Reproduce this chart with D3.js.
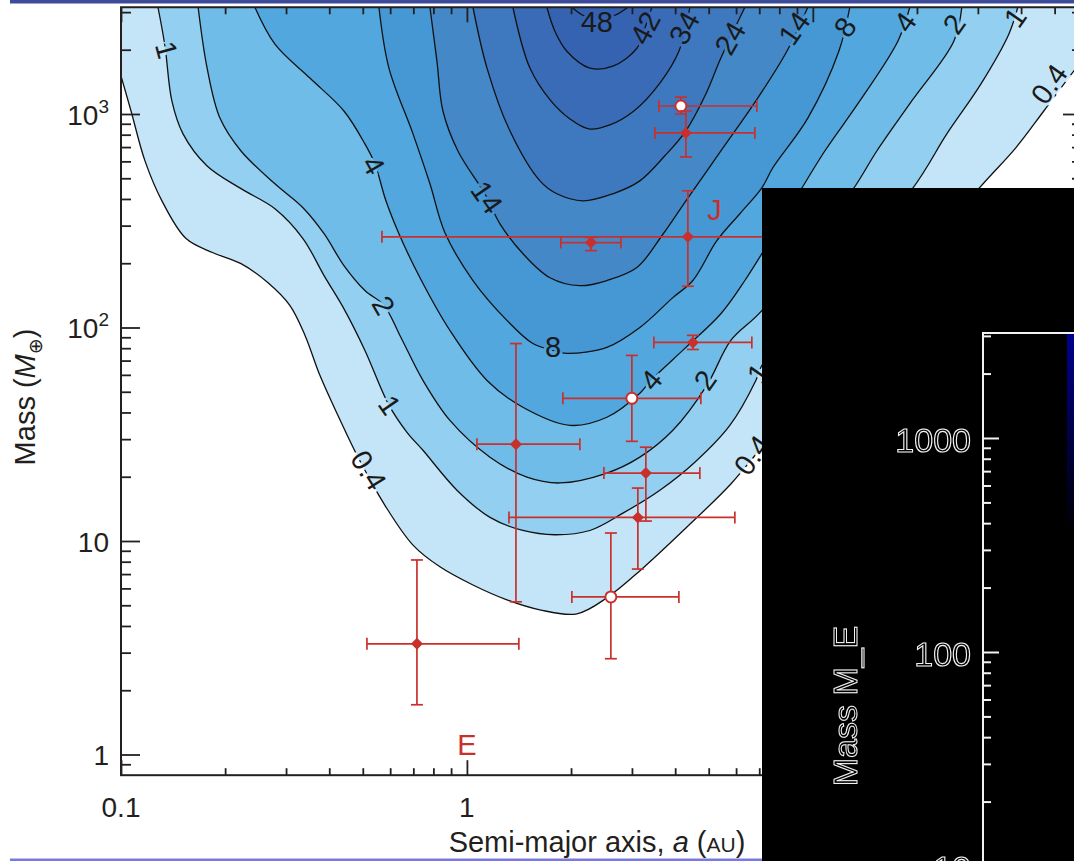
<!DOCTYPE html>
<html>
<head>
<meta charset="utf-8">
<script src="https://cdn.jsdelivr.net/npm/d3@7"></script>
<style>
  html, body { margin: 0; padding: 0; background: #ffffff; }
  svg { display: block; }
  text { font-family: "Liberation Sans", Arial, Helvetica, sans-serif; }
</style>
</head>
<body>
<svg id="chart" width="1074" height="861"></svg>
<script>
// ---------------- Detection-efficiency contours (semi-major axis in AU, mass in Earth masses)
const levels = [0.4, 1, 2, 4, 8, 14, 24, 34, 42, 48];
const bandColors = ["#c4e5f7", "#93cff0", "#6fbce8", "#52a7de", "#4598d4",
                    "#4588c8", "#3e78bf", "#396bb7", "#3563b2", "#3360b0"];

const contour04 = [[0.1,1507],[0.1069,1033],[0.1173,603],[0.1313,392],[0.1542,261],[0.1845,224],
  [0.2223,199],[0.2661,162],[0.3076,127],[0.3404,91.8],[0.3758,59.7],[0.4236,38.8],[0.4842,24.7],
  [0.5794,14.7],[0.6984,9.57],[0.8356,7.57],[1.041,6.22],[1.305,5.30],[1.626,4.76],[2.079,4.56],
  [2.539,5.42],[3.183,7.32],[4.296,11.5],[5.794,18.5],[7.121,27.5],[14.61,108],[29.99,442],
  [38.61,694],[46.53,1033],[56.79,1589],[63.17,1968]];
const contour1 = [[0.1279,3162],[0.1340,2080],[0.1403,1151],[0.1511,807],[0.1774,571],[0.2223,447],
  [0.2786,360],[0.3357,261],[0.3864,175],[0.4440,120],[0.5072,78.1],[0.5951,43.3],[0.6710,32.3],
  [0.7463,26.6],[0.9357,17.3],[1.166,12.9],[1.451,11.2],[1.796,10.7],[2.267,11.2],[2.824,13.5],
  [3.613,17.3],[4.560,23.4],[5.755,34.8],[6.843,56.5],[7.121,66.4],[19.32,442],[24.40,807],
  [30.59,1380],[36.86,2366],[39.13,3162]];
const contour2 = [[0.1671,3162],[0.1774,1641],[0.1932,957],[0.2223,671],[0.2786,471],[0.3357,364],
  [0.3864,275],[0.4410,195],[0.5072,149],[0.5756,127],[0.6402,91.8],[0.7463,56.5],[0.8931,36.7],
  [1.166,24.7],[1.491,19.9],[1.857,18.7],[2.539,20.8],[3.162,24.7],[3.939,33.0],[4.939,53.6],
  [5.794,87.0],[7.121,120],[13.05,442],[15.31,671],[19.32,1151],[25.56,2193],[26.96,3162]];
const contour4 = [[0.2438,3162],[0.2786,2125],[0.3516,1473],[0.4410,1033],[0.5072,724],[0.5421,583],
  [0.5833,392],[0.6360,275],[0.7316,171],[0.8931,96.8],[1.143,56.5],[1.451,42.3],[1.985,34.8],
  [2.539,38.0],[3.162,49.2],[3.402,56.5],[4.296,80.7],[5.422,116],[6.361,166],[9.234,442],
  [10.83,671],[13.67,1151],[17.61,2193],[19.07,3162]];
const contour8 = [[0.5568,3162],[0.5951,1641],[0.6984,807],[0.7818,471],[0.8639,278],[1.041,166],
  [1.305,108],[1.551,84.1],[1.773,78.1],[1.945,75.7],[2.539,80.7],[3.162,100],[3.939,138],
  [4.500,166],[5.279,255],[6.152,341],[7.121,451],[7.662,560],[9.672,957],[11.89,1968],[12.79,3162]];
const contour14 = [[0.7818,3162],[0.8190,1770],[0.8524,1033],[0.9419,671],[1.135,414],[1.246,306],
  [1.451,222],[1.738,171],[2.121,157],[2.539,166],[3.100,191],[3.661,269],[4.296,392],[5.422,671],
  [6.843,1151],[8.414,1968],[9.672,3162]];
const contour24 = [[1.041,3162],[1.143,1641],[1.331,834],[1.626,486],[1.820,423],[2.164,392],
  [2.642,423],[3.162,486],[3.735,637],[4.296,834],[4.874,1213],[5.422,1828],[6.361,3162]];
const contour34 = [[1.358,3162],[1.521,1641],[1.749,1151],[1.985,948],[2.252,851],[2.590,889],
  [3.039,1033],[3.613,1396],[4.100,1968],[4.411,3162]];
const contour42 = [[1.703,3162],[1.796,2443],[1.945,1968],[2.267,1641],[2.642,1675],[3.100,2032],
  [3.269,2524],[3.425,3162]];
const contour48 = [[2.011,3162],[2.193,2871],[2.423,2812],[2.677,2901],[2.920,3162]];
const contours = [contour04, contour1, contour2, contour4, contour8,
                  contour14, contour24, contour34, contour42, contour48];

// Contour labels: text, position (AU, Earth masses), rotation
const labelText  = ["48","42","34","24","14","8","4","2","1","0.4",
                    "1","4","14","2","1","0.4","8","4","2","1","0.4"];
const labelA     = [2.375,3.269,4.240,5.755,8.814,12.38,18.45,25.56,38.36,48.10,
                    0.1358,0.5384,1.143,0.5756,0.599,0.5208,1.773,3.402,4.874,6.934,6.663];
const labelM     = [2698,2529,2529,2270,2529,2558,2698,2641,2844,1383,
                    1995,577,408,127,43.4,21.5,81.1,56.8,56.8,61.2,25.3];
const labelAngle = [0,-62,-62,-60,-55,-55,-55,-55,-55,-55,
                    75,60,55,60,55,58,0,-50,-55,-55,-55];

// ---------------- Planets with error bars
const planetA = [4.155, 4.296, 2.283, 4.353, 4.500, 2.998, 1.386, 3.291, 3.120, 2.607, 0.717];
const planetM = [1090, 815, 250, 266, 85.1, 46.6, 28.4, 20.8, 12.9, 5.47, 3.30];
const aLow    = [3.589, 3.494, 1.869, 0.568, 3.471, 1.894, 1.069, 2.489, 1.323, 2.011, 0.514];
const aHigh   = [6.889, 6.798, 2.787, 33.0, 6.663, 4.746, 2.121, 4.714, 5.951, 4.100, 1.413];
const mLow    = [1000, 630, 229, 156, 78.9, 29.3, 5.19, 12.4, 7.39, 2.81, 1.71];
const mHigh   = [1200, 1033, 264, 437, 91.9, 74.0, 84.1, 27.5, 17.7, 10.9, 8.15];
const openMarker = [true, false, false, false, false, true, false, false, false, true, false];

// Solar-system reference letters
const refNames = ["E", "J"];
const refA = [1.0, 5.2];
const refM = [1.0, 318];

// ---------------- Axis ticks
const xMajorTicks = [0.1, 1, 10];
const xTickLabels = ["0.1", "1", "10"];
const xMinorTicks = [0.2,0.3,0.4,0.5,0.6,0.7,0.8,0.9,2,3,4,5,6,7,8,9,20,30,40,50];
const yMajorTicks = [1, 10, 100, 1000];
const yTickBase   = ["1", "10", "10", "10"];
const yTickExp    = ["", "", "2", "3"];
const yMinorTicks = [0.9,2,3,4,5,6,7,8,9,20,30,40,50,60,70,80,90,200,300,400,500,600,700,800,900,2000,3000];

const insetMajorTicks = [10, 100, 1000];
const insetTickLabels = ["10", "100", "1000"];
const insetMinorTicks = [20,30,40,50,60,70,80,90,200,300,400,500,600,700,800,900,2000,3000];

// ---------------- Setup
const W = 1074, H = 861;
const svg = d3.select("#chart");
const defs = svg.append("defs");

const x = d3.scaleLog().domain([0.1, 60]).range([121, 1082]);
const y = d3.scaleLog().domain([0.8, 3162]).range([775.2, 7.25]);
const X0 = x.range()[0], X1 = x.range()[1], Y0 = y.range()[1], Y1 = y.range()[0];
const ink = "#231f20";
const red = "#c9302c";

defs.append("clipPath").attr("id", "plotClip").append("rect")
  .attr("x", X0).attr("y", Y0).attr("width", X1 - X0).attr("height", Y1 - Y0);

// grayscale rasterisation for the outlined white lettering
const flat = defs.append("filter").attr("id", "flatText")
  .attr("x", "-10%").attr("y", "-10%").attr("width", "120%").attr("height", "120%");
flat.append("feOffset").attr("dx", 0).attr("dy", 0);

// slide decorations
svg.append("rect").attr("x", 10).attr("y", 0).attr("width", W - 10).attr("height", 3.5).attr("fill", "#3e4b9b");
svg.append("rect").attr("x", 10).attr("y", 858.5).attr("width", 760).attr("height", 2.5).attr("fill", "#7a7ade");

// ---------------- Filled contour bands
const plot = svg.append("g").attr("clip-path", "url(#plotClip)");
plot.append("rect").attr("x", X0).attr("y", Y0).attr("width", X1 - X0).attr("height", Y1 - Y0).attr("fill", "#ffffff");

const curveLine = d3.line()
  .x(d => x(d[0])).y(d => y(d[1]))
  .curve(d3.curveCatmullRom.alpha(0.5));

function bandPath(pts) {
  const first = pts[0], last = pts[pts.length - 1];
  const top = Y0 - 3;
  return curveLine(pts) + `L${x(last[0])},${top}L${x(first[0])},${top}Z`;
}

plot.selectAll("path.band").data(contours).join("path")
  .attr("class", "band")
  .attr("d", d => bandPath(d))
  .attr("fill", (d, i) => bandColors[i])
  .attr("stroke", "none");

// mask that opens gaps in the contour lines under the labels
const gapMask = defs.append("mask").attr("id", "labelGaps")
  .attr("maskUnits", "userSpaceOnUse").attr("x", 0).attr("y", 0).attr("width", W).attr("height", H);
gapMask.append("rect").attr("width", W).attr("height", H).attr("fill", "#fff");

function placeLabels(sel) {
  return sel
    .attr("transform", (d, i) => `translate(${x(labelA[i])},${y(labelM[i])}) rotate(${labelAngle[i]})`)
    .attr("text-anchor", "middle")
    .attr("dy", "0.36em")
    .attr("font-size", 29)
    .text(d => d);
}
placeLabels(gapMask.selectAll("text").data(labelText).join("text"))
  .attr("fill", "#000").attr("stroke", "#000").attr("stroke-width", 6);

plot.append("g").attr("mask", "url(#labelGaps)")
  .selectAll("path.cline").data(contours).join("path")
  .attr("class", "cline")
  .attr("d", d => curveLine(d))
  .attr("fill", "none")
  .attr("stroke", "#111")
  .attr("stroke-width", 1.3);

placeLabels(plot.append("g").selectAll("text").data(labelText).join("text"))
  .attr("fill", "#1a1a1a");

// ---------------- Planets
const pts = plot.append("g").selectAll("g").data(d3.range(planetA.length)).join("g")
  .attr("stroke", red).attr("stroke-width", 1.7).attr("fill", "none");
const capH = 6;
pts.append("line")
  .attr("x1", i => x(aLow[i])).attr("x2", i => x(aHigh[i]))
  .attr("y1", i => y(planetM[i])).attr("y2", i => y(planetM[i]));
pts.append("line")
  .attr("x1", i => x(planetA[i])).attr("x2", i => x(planetA[i]))
  .attr("y1", i => y(mLow[i])).attr("y2", i => y(mHigh[i]));
[aLow, aHigh].forEach(arr => {
  pts.append("line")
    .attr("x1", i => x(arr[i])).attr("x2", i => x(arr[i]))
    .attr("y1", i => y(planetM[i]) - capH).attr("y2", i => y(planetM[i]) + capH);
});
[mLow, mHigh].forEach(arr => {
  pts.append("line")
    .attr("x1", i => x(planetA[i]) - capH).attr("x2", i => x(planetA[i]) + capH)
    .attr("y1", i => y(arr[i])).attr("y2", i => y(arr[i]));
});
pts.filter(i => !openMarker[i]).append("path")
  .attr("d", "M0,-6L6,0L0,6L-6,0Z")
  .attr("transform", i => `translate(${x(planetA[i])},${y(planetM[i])})`)
  .attr("fill", red).attr("stroke", "none");
pts.filter(i => openMarker[i]).append("circle")
  .attr("cx", i => x(planetA[i])).attr("cy", i => y(planetM[i]))
  .attr("r", 5.5).attr("fill", "#fff").attr("stroke-width", 2);

plot.append("g").selectAll("text").data(refNames).join("text")
  .attr("x", (d, i) => x(refA[i])).attr("y", (d, i) => y(refM[i]))
  .attr("text-anchor", "middle").attr("font-size", 29).attr("fill", red)
  .text(d => d);

// ---------------- Axes
function tickGroup(gen, tx, ty) {
  const g = svg.append("g").attr("transform", `translate(${tx},${ty})`).call(gen);
  g.select(".domain").remove();
  g.selectAll("line").attr("stroke", ink).attr("stroke-width", 1.8);
  g.selectAll("text").remove();
  return g;
}
tickGroup(d3.axisBottom(x).tickValues(xMinorTicks).tickSize(-7), 0, Y1);
tickGroup(d3.axisBottom(x).tickValues(xMajorTicks).tickSize(-15), 0, Y1);
tickGroup(d3.axisTop(x).tickValues(xMinorTicks).tickSize(-7), 0, Y0);
tickGroup(d3.axisTop(x).tickValues(xMajorTicks).tickSize(-15), 0, Y0);
tickGroup(d3.axisLeft(y).tickValues(yMinorTicks).tickSize(-10), X0, 0);
tickGroup(d3.axisLeft(y).tickValues(yMajorTicks).tickSize(-19), X0, 0);
tickGroup(d3.axisRight(y).tickValues(yMinorTicks).tickSize(-10), X1, 0);
tickGroup(d3.axisRight(y).tickValues(yMajorTicks).tickSize(-19), X1, 0);

svg.append("rect").attr("x", X0).attr("y", Y0).attr("width", X1 - X0).attr("height", Y1 - Y0)
  .attr("fill", "none").attr("stroke", ink).attr("stroke-width", 2);

svg.append("g").selectAll("text").data(xMajorTicks).join("text")
  .attr("x", d => x(d)).attr("y", 817)
  .attr("text-anchor", "middle").attr("font-size", 28).attr("fill", ink)
  .text((d, i) => xTickLabels[i]);

const yl = svg.append("g").selectAll("text").data(yMajorTicks).join("text")
  .attr("x", 109).attr("y", d => y(d)).attr("dy", "0.38em")
  .attr("text-anchor", "end").attr("font-size", 28).attr("fill", ink);
yl.append("tspan").text((d, i) => yTickBase[i]);
yl.append("tspan").attr("font-size", 19).attr("dy", "-0.62em").text((d, i) => yTickExp[i]);

const yt = svg.append("text")
  .attr("transform", "translate(35,397) rotate(-90)")
  .attr("text-anchor", "middle").attr("font-size", 29).attr("fill", ink);
yt.append("tspan").text("Mass (");
yt.append("tspan").attr("font-style", "italic").text("M");
yt.append("tspan").attr("font-size", 19).attr("dy", 7).attr("font-family", "DejaVu Sans").text("\u2295");
yt.append("tspan").attr("dy", -7).text(")");

const xt = svg.append("text")
  .attr("x", 597).attr("y", 852)
  .attr("text-anchor", "middle").attr("font-size", 29).attr("fill", ink);
xt.append("tspan").text("Semi-major axis, ");
xt.append("tspan").attr("font-style", "italic").text("a");
xt.append("tspan").text(" (");
xt.append("tspan").attr("font-size", 21).text("AU");
xt.append("tspan").text(")");

// ---------------- Second panel (dark)
const grad = defs.append("linearGradient").attr("id", "stripFade")
  .attr("x1", 0).attr("y1", 0).attr("x2", 0).attr("y2", 1);
grad.append("stop").attr("offset", "0%").attr("stop-color", "#00008e");
grad.append("stop").attr("offset", "100%").attr("stop-color", "#000008");

const inset = svg.append("g");
inset.append("rect").attr("x", 762).attr("y", 188).attr("width", W - 762).attr("height", H - 188).attr("fill", "#000");

const iy = d3.scaleLog().domain([10, 3162]).range([866, 331]);
const IX = 983;
inset.append("rect").attr("x", 1067).attr("y", 334).attr("width", 8).attr("height", 190).attr("fill", "url(#stripFade)");

function insetTicks(gen) {
  const g = inset.append("g").attr("transform", `translate(${IX},0)`).call(gen);
  g.select(".domain").remove();
  g.selectAll("line").attr("stroke", "#f2f2f2").attr("stroke-width", 2);
  g.selectAll("text").remove();
}
insetTicks(d3.axisRight(iy).tickValues(insetMinorTicks).tickSize(8));
insetTicks(d3.axisRight(iy).tickValues(insetMajorTicks).tickSize(16));
inset.append("path").attr("d", `M${IX},${H}V333H${W}`)
  .attr("fill", "none").attr("stroke", "#f2f2f2").attr("stroke-width", 2);

const insetText = inset.append("g").attr("filter", "url(#flatText)");
insetText.selectAll("text").data(insetMajorTicks).join("text")
  .attr("x", 971).attr("y", d => iy(d)).attr("dy", "0.4em")
  .attr("text-anchor", "end").attr("font-size", 34)
  .attr("fill", "none").attr("stroke", "#f2f2f2").attr("stroke-width", 1.1)
  .text((d, i) => insetTickLabels[i]);

insetText.append("text")
  .attr("transform", "translate(857,706) rotate(-90)")
  .attr("text-anchor", "middle").attr("font-size", 34)
  .attr("fill", "none").attr("stroke", "#f2f2f2").attr("stroke-width", 1.1)
  .text("Mass M_E");
</script>
</body>
</html>
